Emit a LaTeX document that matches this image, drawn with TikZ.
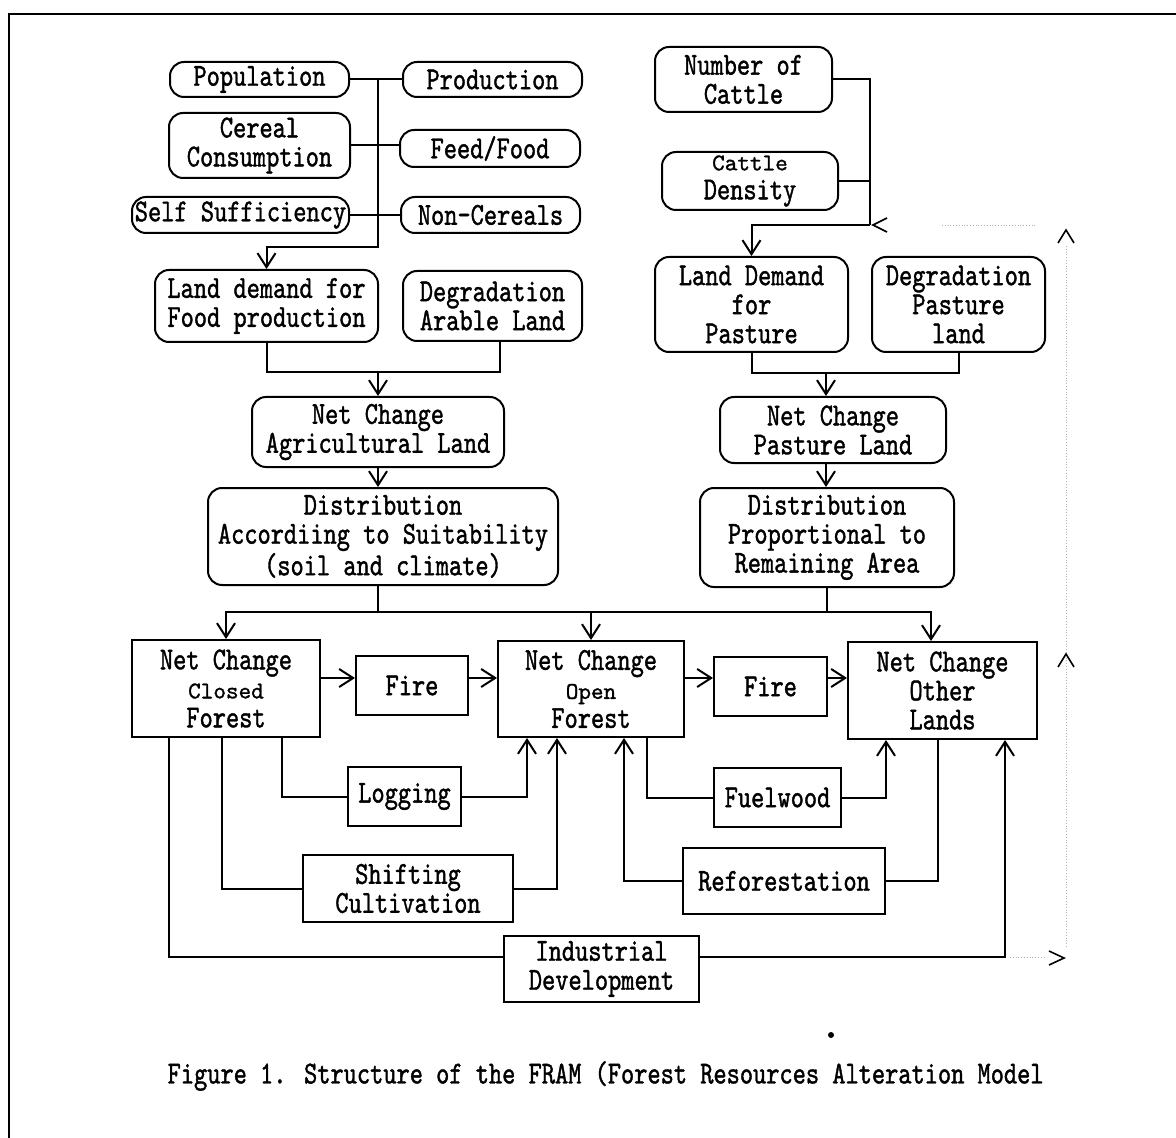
\documentclass[tikz,border=0pt]{standalone}
\usepackage{fontspec}
\usepackage{tikz}
\usetikzlibrary{calc}
\usetikzlibrary{arrows.meta,shapes}
\usetikzlibrary{positioning}
\newfontfamily\diafont{lmmono10-regular.otf}[FakeStretch=0.786,FakeBold=1.2]
\newfontfamily\diawide{lmmono10-regular.otf}[FakeBold=1.2]
\newcommand{\sm}[1]{{\diawide\fontsize{12}{14.5}\selectfont #1}}
\tikzset{
  rbox/.style={draw,rounded corners=7pt,align=center,inner sep=0pt},
  sbox/.style={draw,align=center,inner sep=0pt},
  arr/.style={-{Straight Barb[length=7pt,width=9pt]}},
  ghost/.style={densely dotted,line width=0.4pt,gray!60},
  tick/.style={line width=0.8pt}
}

\begin{document}
\begin{tikzpicture}[x=0.5pt,y=-0.5pt,line width=1pt,
    font=\diafont\fontsize{16}{14.5}\selectfont]
  \useasboundingbox (0,0) rectangle (1176,1138);
  \draw[line width=0.6pt] (1176,14) -- (9,14) -- (9,1138);

  % agricultural side
  \node[rbox,minimum width=89.5pt,minimum height=17.5pt] (pop) at (259.5,79.5) {Population};
  \node[rbox,minimum width=89.5pt,minimum height=17.5pt,right=26pt of pop] (prod) {Production};
  \node[rbox,minimum width=90.5pt,minimum height=32.5pt] (cer) at (259.5,145.5) {Cereal\\Consumption};
  \node[rbox,minimum width=90pt,minimum height=18.5pt] (feed) at (490,148.5) {Feed/Food};
  \node[rbox,minimum width=108.5pt,minimum height=18pt] (self) at (240.5,215) {Self Sufficiency};
  \node[rbox,minimum width=89.5pt,minimum height=18pt] (nonc) at (490.5,215) {Non-Cereals};
  \node[rbox,minimum width=111.5pt,minimum height=36pt] (lfood) at (266.5,306) {Land demand for\\Food production};
  \node[rbox,minimum width=89.5pt,minimum height=35pt,right=11.5pt of lfood] (dara) {Degradation\\Arable Land};
  \node[rbox,minimum width=126pt,minimum height=35pt] (ncag) at (378,432) {Net Change\\Agricultural Land};
  \node[rbox,minimum width=175pt,minimum height=48.5pt] (dsag) at (383,536.5) {Distribution\\Accordiing to Suitability\\(soil and climate)};

  % pasture side
  \node[rbox,minimum width=88.5pt,minimum height=32.5pt] (ncat) at (743.5,79.5) {Number of\\Cattle};
  \node[rbox,minimum width=88pt,minimum height=29pt] (cden) at (750,181) {\sm{Cattle}\\Density};
  \node[rbox,minimum width=96.5pt,minimum height=47.5pt] (lpas) at (751.5,304.5) {Land Demand\\for\\Pasture};
  \node[rbox,minimum width=86.5pt,minimum height=47.5pt,right=11pt of lpas] (dpas) {Degradation\\Pasture\\land};
  \node[rbox,minimum width=113pt,minimum height=33pt] (ncpa) at (833,430) {Net Change\\Pasture Land};
  \node[rbox,minimum width=127pt,minimum height=49.5pt] (dspa) at (827,537.5) {Distribution\\Proportional to\\Remaining Area};

  % forest level
  \node[sbox,minimum width=94pt,minimum height=48.5pt] (ncc) at (226,688.5) {Net Change\\\sm{Closed}\\Forest};
  \node[sbox,minimum width=56pt,minimum height=29.5pt] (fire1) at (412,685.5) {Fire};
  \node[sbox,minimum width=93pt,minimum height=48pt] (nco) at (591,689) {Net Change\\\sm{Open}\\Forest};
  \node[sbox,minimum width=56.5pt,minimum height=29.5pt] (fire2) at (770.5,686.5) {Fire};
  \node[sbox,minimum width=94.5pt,minimum height=48.5pt] (ncl) at (942.5,690.5) {Net Change\\Other\\Lands};
  \node[sbox,minimum width=56.5pt,minimum height=29.5pt] (logg) at (404.5,796.5) {Logging};
  \node[sbox,minimum width=105pt,minimum height=33.5pt] (shif) at (408,888.5) {Shifting\\Cultivation};
  \node[sbox,minimum width=63.5pt,minimum height=29.5pt] (fuel) at (777.5,797.5) {Fuelwood};
  \node[sbox,minimum width=101pt,minimum height=33pt] (refo) at (784,881) {Reforestation};
  \node[sbox,minimum width=97.5pt,minimum height=33pt] (indu) at (601.5,969) {Industrial\\Development};

  \node[anchor=west] (capt) at (160,1076) {Figure 1. Structure of the FRAM (Forest Resources Alteration Model};

  \coordinate (bus) at (378,247);
  \coordinate (agj) at (378,372);
  \coordinate (dj) at (378,612);
  \coordinate (cj) at (870,225);
  \coordinate (pj) at (826,373);
  \coordinate (fa) at (0,678);
  \coordinate (iny) at (0,957);
  \coordinate (lgA) at (282,0);  \coordinate (lgB) at (527,0);
  \coordinate (shA) at (222,0);  \coordinate (shB) at (557,0);
  \coordinate (inA) at (169,0);  \coordinate (inB) at (1005,0);
  \coordinate (fuA) at (647,0);  \coordinate (fuB) at (886,0);
  \coordinate (reA) at (624,0);  \coordinate (reB) at (938,0);

  \draw (pop) -- (prod);
  \draw (cer.east) -- (cer.east -| feed.west);
  \draw (self) -- (nonc);
  \draw[arr] (pop.east -| bus) -- (bus) -| (lfood);
  \draw (lfood) |- (agj) -| ([xshift=3.75pt]dara.south);
  \draw[arr] (agj) -- (ncag);
  \draw[arr] (ncag) -- (ncag |- dsag.north);
  \draw (dsag.south -| dj) -- (dj);

  \draw (ncat.east) -| (cj);
  \draw (cden) -- (cden -| cj);
  \draw[arr] (cj) -| (lpas);
  \draw (lpas) |- (pj) -| (dpas);
  \draw[arr] (pj) -- (pj |- ncpa.north);
  \draw[arr] (ncpa.south -| pj) -- (pj |- dspa.north);
  \draw (dspa) -- (dspa |- dj);

  \draw[arr] (dj) -| (ncc);
  \draw[arr] (dj) -| (nco);
  \draw[arr] (dj) -| ([xshift=-5.75pt]ncl.north);

  \draw[arr] (ncc.east |- fa) -- (fire1.west |- fa);
  \draw[arr] (fire1.east |- fa) -- (nco.west |- fa);
  \draw[arr] (nco.east |- fa) -- (fire2.west |- fa);
  \draw[arr] (fire2.east |- fa) -- (ncl.west |- fa);

  \draw (ncc.south -| lgA) |- (logg);
  \draw[arr] (logg) -| (nco.south -| lgB);
  \draw (ncc.south -| shA) |- (shif);
  \draw[arr] (shif) -| (nco.south -| shB);
  \draw (ncc.south -| inA) |- (indu.west |- iny);
  \draw[arr] (indu.east |- iny) -| (ncl.south -| inB);
  \draw (nco.south -| fuA) |- (fuel);
  \draw[arr] (fuel) -| (ncl.south -| fuB);
  \draw (ncl.south -| reB) |- (refo);
  \draw[arr] (refo) -| (nco.south -| reA);

  % faint traces at the right
  \draw[ghost] (942,225) -- (1037,225);
  \draw[ghost] (1066,246) -- (1066,948);
  \draw[ghost] (1010,957) -- (1044,957);
  \draw[tick] (887,218) -- (873,225) -- (887,232);
  \draw[tick] (1058,243) -- (1066,230) -- (1074,243);
  \draw[tick] (1058,667) -- (1066,654) -- (1074,667);
  \draw[tick] (1049,951) -- (1064,958) -- (1049,965);
  \fill (831,1035) circle (1.5pt);
\end{tikzpicture}
\end{document}
